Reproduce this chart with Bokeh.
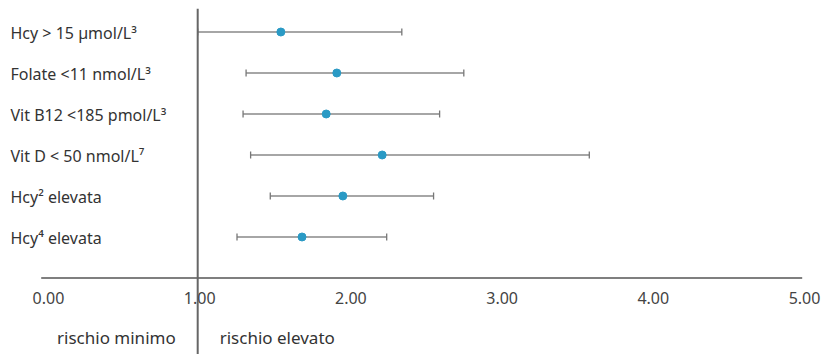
from bokeh.plotting import figure
from bokeh.models import Range1d, ColumnDataSource, Whisker, TeeHead, Span
from bokeh.core.properties import value
from bokeh.embed import file_html
from bokeh.resources import INLINE

# ---- data ----
labels = ["Hcy > 15 µmol/L³", "Folate <11 nmol/L³", "Vit B12 <185 pmol/L³",
          "Vit D < 50 nmol/L⁷", "Hcy² elevata", "Hcy⁴ elevata"]
estimate = [1.55, 1.92, 1.85, 2.22, 1.96, 1.69]
ci_low = [1.00, 1.32, 1.30, 1.35, 1.48, 1.26]
ci_high = [2.35, 2.76, 2.60, 3.59, 2.56, 2.25]
ticks = [0, 1, 2, 3, 4, 5]
tick_labels = ["0.00", "1.00", "2.00", "3.00", "4.00", "5.00"]
ref_value = 1.0
side_labels = ["rischio minimo", "rischio elevato"]

rows = list(range(len(labels)))

FONT = "Noto Sans"
W, H = 823, 354

p = figure(width=W, height=H, output_backend="svg", toolbar_location=None,
           x_range=Range1d(-0.3042, 5.1389), y_range=Range1d(7.8659, -0.7683),
           min_border=0, outline_line_color=None, background_fill_color="white",
           border_fill_color="white")
p.xaxis.visible = False
p.yaxis.visible = False
p.xgrid.visible = False
p.ygrid.visible = False

src = ColumnDataSource(dict(y=rows, est=estimate, lo=ci_low, hi=ci_high, lab=labels))

# axis line
AXIS_Y = 6.0
p.segment(x0=[-0.035], y0=[AXIS_Y], x1=[4.998], y1=[AXIS_Y], line_color="#555555", line_width=1.5)

# reference vertical line (from top of plot down to bottom)
p.segment(x0=[ref_value], y0=[-0.57], x1=[ref_value], y1=[7.87], line_color="#666666", line_width=2)

# error bars
w = Whisker(source=src, base="y", lower="lo", upper="hi", dimension="width",
            line_color="#888888", line_width=1.6,
            lower_head=TeeHead(size=7, line_color="#777777", line_width=1.3),
            upper_head=TeeHead(size=7, line_color="#777777", line_width=1.3))
p.add_layout(w)

p.scatter(x="est", y="y", source=src, size=8, fill_color="#2a9ac5", line_color="#2a9ac5")

# row labels
p.text(x=-0.238, y="y", text="lab", source=src, text_font=value(FONT), text_font_size="16px",
       text_color="#333333", text_baseline="middle", text_align="left", y_offset=1)

# tick labels
p.text(x=ticks, y=[6.5] * len(ticks), text=tick_labels, text_font=value(FONT), text_font_size="16px",
       text_color="#444444", text_baseline="middle", text_align="center", x_offset=2)

# side labels
p.text(x=[ref_value], y=[7.46], text=[side_labels[0]], text_font=value(FONT), text_font_size="17px",
       text_color="#333333", text_baseline="middle", text_align="right", x_offset=-22)
p.text(x=[ref_value], y=[7.46], text=[side_labels[1]], text_font=value(FONT), text_font_size="17px",
       text_color="#333333", text_baseline="middle", text_align="left", x_offset=22)

open("out.html", "w").write(file_html(p, INLINE))
